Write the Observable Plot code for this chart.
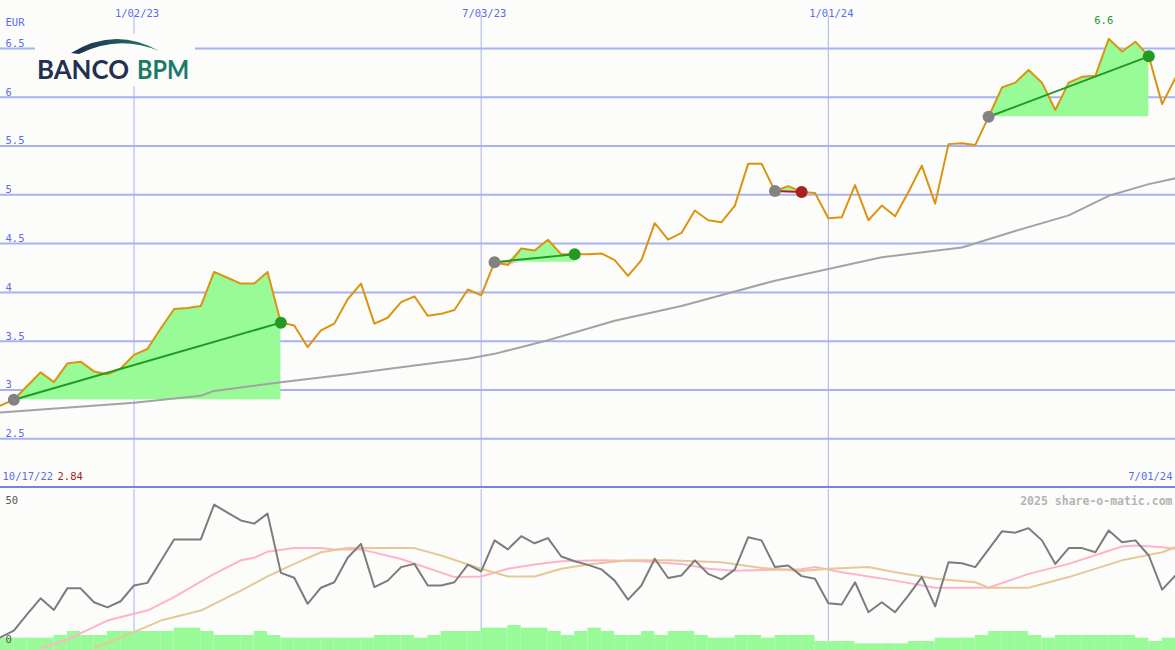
<!DOCTYPE html>
<html><head><meta charset="utf-8">
<script src="https://cdn.jsdelivr.net/npm/d3@7"></script>
<script src="https://cdn.jsdelivr.net/npm/@observablehq/plot@0.6"></script>
<style>
html,body{margin:0;padding:0;background:#fcfdfa;}
#chart{position:relative;width:1175px;height:650px;overflow:hidden;background:#fcfdfa;}
#chart > svg, #chart > div{position:absolute;left:0;}
</style></head>
<body><div id="chart"></div>
<script>
// ---------- data (weekly closes) ----------
const weekStart = "2022-10-24";
const periodStart = "2022-10-17";
const periodEnd = "2024-07-01";

const price = [
  2.84,2.90,3.04,3.18,3.08,3.27,3.29,3.19,3.16,3.22,
  3.36,3.42,3.63,3.83,3.84,3.86,4.21,4.15,4.09,4.09,
  4.21,3.69,3.66,3.44,3.61,3.68,3.93,4.09,3.68,3.74,
  3.90,3.96,3.76,3.78,3.82,4.03,3.97,4.31,4.28,4.45,
  4.43,4.54,4.39,4.39,4.39,4.40,4.33,4.17,4.33,4.71,
  4.54,4.61,4.84,4.74,4.72,4.89,5.32,5.32,5.04,5.09,
  5.03,5.02,4.76,4.77,5.10,4.74,4.89,4.78,5.03,5.30,
  4.91,5.52,5.53,5.51,5.80,6.10,6.15,6.28,6.15,5.87,
  6.15,6.21,6.22,6.60,6.47,6.57,6.42,5.93,6.20
];

// long moving average (grey line in price panel)
const maWeeks  = [0,10,15,16,21,26,31,35,37,41,46,51,55,58,62,66,72,76,80,83,86,88];
const maValues = [2.77,2.87,2.94,2.99,3.08,3.16,3.25,3.32,3.37,3.51,3.71,3.86,4.01,4.12,4.24,4.36,4.46,4.63,4.79,4.99,5.11,5.17];

// trades (week index of entry and exit)
const tradeEntryWeek = [1, 37, 58, 74];
const tradeExitWeek  = [21, 43, 60, 86];

// lower panel oscillator (0..50)
const oscillator = [
  4.1,6.2,11.3,16.2,12.6,19.3,19.3,15.0,13.4,15.3,
  20.2,21.0,27.7,34.5,34.5,34.5,45.3,42.8,40.4,39.4,
  42.5,24.1,22.6,14.5,19.5,21.2,28.8,33.1,19.7,21.7,
  25.9,26.9,20.2,20.2,21.2,26.7,24.6,34.2,31.4,35.5,
  33.3,34.9,29.2,27.7,26.6,25.2,21.7,15.8,20.2,28.5,
  22.5,23.3,28.0,23.8,22.1,25.2,35.2,34.2,25.9,26.4,
  23.1,22.3,14.7,14.3,21.2,11.9,15.0,11.9,17.1,22.8,
  13.7,27.4,27.1,25.9,31.4,37.0,36.6,38.0,34.2,26.9,
  31.8,31.8,30.5,37.3,33.6,34.2,29.5,18.9,23.3
];
const pinkWeeks  = [3,5,8,10,11,13,16,18,19,20,22,24,25,27,30,34,36,38,40,42,45,48,51,53,55,60,61,63,67,70,74,77,80,84,85,87,88];
const pinkValues = [0.7,3.4,9.3,11.4,12.4,16.6,23.8,28.0,28.8,30.7,31.8,31.8,31.4,31.4,28.4,22.8,23.0,25.4,26.7,27.7,28.0,27.7,26.9,25.4,24.8,25.2,25.9,24.3,21.7,19.5,19.5,23.8,26.9,32.3,32.6,32.1,31.6];
const tanWeeks   = [7,10,12,15,18,20,22,24,26,31,33,36,38,40,42,44,47,50,52,54,57,60,62,65,67,70,73,74,77,80,84,87,88];
const tanValues  = [0.7,5.7,9.3,12.4,18.6,23.0,26.9,30.5,31.8,31.8,29.5,25.4,23.0,23.0,25.4,26.7,28.0,28.0,27.7,27.4,25.6,24.7,25.4,25.9,24.3,22.3,21.2,19.5,19.5,22.8,28.0,30.5,32.1];

// weekly volume (million shares)
const volume = [
  18.5,18.5,18.5,18.5,22.5,28.5,22.5,22.5,28.5,28.5,
  28.5,28.5,28.5,33.5,33.5,28.5,22.5,22.5,22.5,28.5,
  22.5,18.5,18.5,18.5,18.5,18.5,18.5,18.5,22.5,22.5,
  22.5,18.5,22.5,28.5,28.5,28.5,33.5,33.5,37.5,33.5,
  33.5,28.5,22.5,28.5,33.5,28.5,22.5,22.5,28.5,22.5,
  28.5,28.5,22.5,18.5,18.5,22.5,22.5,18.5,22.5,22.5,
  22.5,13.5,13.5,13.5,10,10,10,10,13.5,13.5,
  18.5,18.5,18.5,22.5,28.5,28.5,28.5,22.5,18.5,22.5,
  22.5,22.5,22.5,22.5,22.5,18.5,13.5,18.5,18.5
];

const priceTicks = [2.5,3,3.5,4,4.5,5,5.5,6,6.5];
const dateTicks  = ["2023-01-02","2023-07-03","2024-01-01"];
const oscTicks   = [50, 0];
const currency   = "EUR";
const watermark  = "2025 share-o-matic.com";

// ---------- derived ----------
const utc = s => new Date(s + "T00:00:00Z");
const t0 = utc(weekStart);
const week = i => new Date(t0.getTime() + i * 7 * 864e5);
const fmtDate = d3.utcFormat("%-m/%d/%y");
const fmtNum = d3.format(".3~g");
const xDomain = [week(0), utc(periodEnd)];

const rows = price.map((p, i) => ({date: week(i), next: week(i + 1), price: p, osc: oscillator[i], vol: volume[i]}));
const maRows = maWeeks.map((w, i) => ({date: week(w), v: maValues[i]}));
const pinkRows = pinkWeeks.map((w, i) => ({date: week(w), v: pinkValues[i]}));
const tanRows = tanWeeks.map((w, i) => ({date: week(w), v: tanValues[i]}));
const trades = tradeEntryWeek.map((e, k) => {
  const x = tradeExitWeek[k];
  return {k, e, x, d1: week(e), p1: price[e], d2: week(x), p2: price[x], win: price[x] >= price[e]};
});
const fillRows = trades.flatMap(t => d3.range(t.e, t.x + 1).map(i => ({k: t.k, date: week(i), entry: t.p1, price: price[i]})));
const maxRow = rows[d3.maxIndex(rows, d => d.price)];
const minRow = rows[d3.minIndex(rows, d => d.price)];

const BLUE = "#5b6ce8", GRID = "#a7b2f3", GREEN = "#229a22", RED = "#a82020";
const baseStyle = {fontFamily: "'DejaVu Sans Mono', monospace", fontSize: "10.5px", background: "transparent", overflow: "visible"};

const chart = document.getElementById("chart");

// ---------- price panel ----------
const main = Plot.plot({
  width: 1175, height: 489,
  marginTop: 0, marginRight: 0, marginBottom: 2, marginLeft: 0,
  x: {type: "utc", domain: xDomain, axis: null},
  y: {domain: [2, 6.5 + 48 / 97.5], axis: null},
  style: baseStyle,
  marks: [
    Plot.ruleY(priceTicks, {stroke: GRID, strokeWidth: 2}),
    Plot.ruleX(dateTicks.map(utc), {stroke: GRID, strokeWidth: 1, insetTop: 15}),
    Plot.areaY(fillRows, {x: "date", y1: "entry", y2: d => Math.max(d.price, d.entry), z: "k", fill: "#98fb98"}),
    Plot.areaY(fillRows, {x: "date", y1: "entry", y2: d => Math.min(d.price, d.entry), z: "k", fill: "#ffb6c1"}),
    Plot.line(maRows, {x: "date", y: "v", stroke: "#a3a3a3", strokeWidth: 2}),
    Plot.line(rows, {x: "date", y: "price", stroke: "#dc9410", strokeWidth: 2}),
    Plot.link(trades.filter(t => t.win), {x1: "d1", y1: "p1", x2: "d2", y2: "p2", stroke: GREEN, strokeWidth: 2}),
    Plot.link(trades.filter(t => !t.win), {x1: "d1", y1: "p1", x2: "d2", y2: "p2", stroke: RED, strokeWidth: 2}),
    Plot.dot(trades, {x: "d1", y: "p1", r: 6, fill: "#828282"}),
    Plot.dot(trades.filter(t => t.win), {x: "d2", y: "p2", r: 6, fill: GREEN}),
    Plot.dot(trades.filter(t => !t.win), {x: "d2", y: "p2", r: 6, fill: RED}),
    Plot.text(priceTicks, {y: d => d, frameAnchor: "left", dx: 5, dy: -5, textAnchor: "start", fill: BLUE, text: d => String(d)}),
    Plot.text([currency], {frameAnchor: "top-left", dx: 5, dy: 18, textAnchor: "start", fill: BLUE, text: d => d}),
    Plot.text(dateTicks.map(utc), {x: d => d, frameAnchor: "top", dy: 9, dx: 3, fill: BLUE, text: d => fmtDate(d)}),
    Plot.text([maxRow], {x: "date", y: "price", dy: -18, dx: -5, fill: GREEN, text: d => fmtNum(d.price)}),
    Plot.text([periodStart], {frameAnchor: "bottom-left", dx: 2, dy: -8, textAnchor: "start", fill: BLUE, text: d => fmtDate(utc(d))}),
    Plot.text([minRow], {frameAnchor: "bottom-left", dx: 57, dy: -8, textAnchor: "start", fill: RED, text: d => fmtNum(d.price)}),
    Plot.text([periodEnd], {frameAnchor: "bottom-right", dx: -3, dy: -8, textAnchor: "end", fill: BLUE, text: d => fmtDate(utc(d))})
  ]
});
main.style.top = "0px";
chart.appendChild(main);

// separator
const sep = document.createElement("div");
sep.style.cssText = "top:486px;width:1175px;height:2px;background:#7383ea;";
chart.appendChild(sep);

// ---------- volume (behind indicator) ----------
const vol = Plot.plot({
  width: 1175, height: 161,
  margin: 0,
  x: {type: "utc", domain: xDomain, axis: null},
  y: {domain: [0, 241.5], axis: null},
  style: baseStyle,
  marks: [
    Plot.ruleX(dateTicks.map(utc), {stroke: GRID, strokeWidth: 1}),
    Plot.rectY(rows, {x1: "date", x2: "next", y: "vol", fill: "#98fb98", inset: 0})
  ]
});
vol.style.top = "489px";
chart.appendChild(vol);

// ---------- indicator panel ----------
const ind = Plot.plot({
  width: 1175, height: 161,
  margin: 0,
  x: {type: "utc", domain: xDomain, axis: null},
  y: {domain: [0, 50], axis: null},
  clip: true,
  style: baseStyle,
  marks: [
    Plot.line(pinkRows, {x: "date", y: "v", stroke: "#ffb3c8", strokeWidth: 2}),
    Plot.line(tanRows, {x: "date", y: "v", stroke: "#e6c898", strokeWidth: 2}),
    Plot.line(rows, {x: "date", y: "osc", stroke: "#7c7c7c", strokeWidth: 2}),
    Plot.text([oscTicks[0]], {frameAnchor: "top-left", dx: 5, dy: 7, textAnchor: "start", fill: "#555", text: d => String(d), clip: false}),
    Plot.text([oscTicks[1]], {frameAnchor: "bottom-left", dx: 5, dy: -8, textAnchor: "start", fill: "#555", text: d => String(d), clip: false}),
    Plot.text([watermark], {frameAnchor: "top-right", dx: -3, dy: 7, textAnchor: "end", fill: "#b4b4b4", fontWeight: "bold", fontSize: 11.5, text: d => d, clip: false})
  ]
});
ind.style.top = "489px";
chart.appendChild(ind);

// ---------- logo ----------
const logo = document.createElementNS("http://www.w3.org/2000/svg", "svg");
logo.setAttribute("width", "175"); logo.setAttribute("height", "52");
logo.style.cssText = "position:absolute;left:35px;top:34px;overflow:visible;";
logo.innerHTML = `
  <defs><linearGradient id="lg" x1="0" x2="1"><stop offset="0" stop-color="#1f2b4e"/><stop offset="1" stop-color="#1d7b6b"/></linearGradient></defs>
  <rect width="160" height="52" fill="#fcfdfa"/>
  <path d="M36,19 Q80,-8 124,17 Q84,0 44,20 Z" fill="url(#lg)"/>
  <text x="2" y="44.5" font-family="Lato, 'Open Sans', sans-serif" font-weight="700" font-size="26" fill="#24304f" textLength="92" lengthAdjust="spacingAndGlyphs">BANCO</text>
  <text x="102" y="44.5" font-family="Lato, 'Open Sans', sans-serif" font-weight="700" font-size="26" fill="#1b7a68" textLength="52" lengthAdjust="spacingAndGlyphs">BPM</text>`;
chart.appendChild(logo);
</script>
</body></html>
